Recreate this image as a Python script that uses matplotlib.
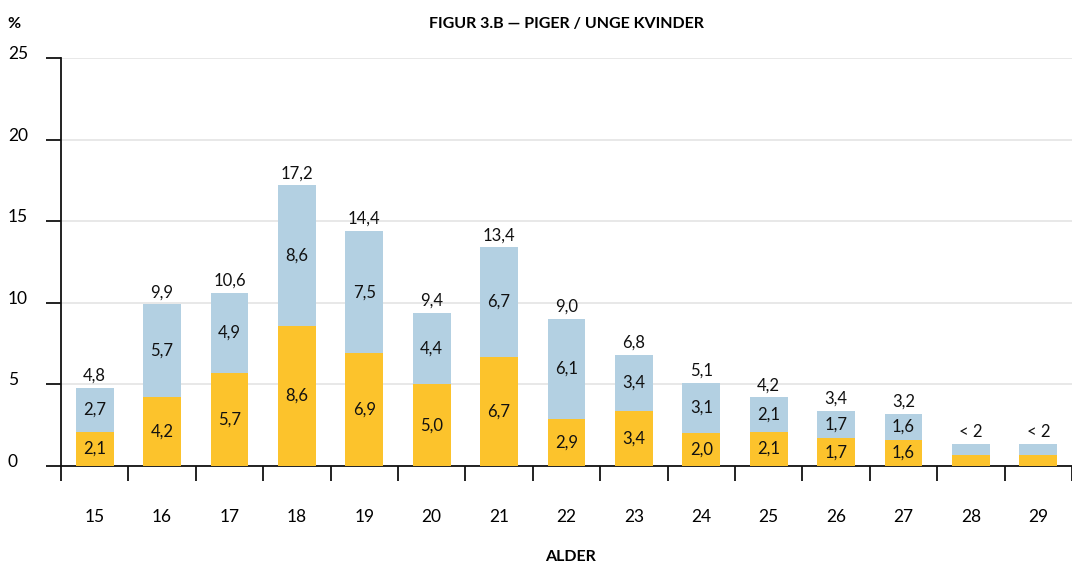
import matplotlib
matplotlib.use("Agg")
import matplotlib.pyplot as plt
import matplotlib.transforms as mtransforms
import numpy as np

ages = ["15", "16", "17", "18", "19", "20", "21", "22", "23", "24", "25", "26", "27", "28", "29"]
bottom_vals = [2.1, 4.2, 5.7, 8.6, 6.9, 5.0, 6.7, 2.9, 3.4, 2.0, 2.1, 1.7, 1.6, 0.7, 0.7]
top_vals = [2.7, 5.7, 4.9, 8.6, 7.5, 4.4, 6.7, 6.1, 3.4, 3.1, 2.1, 1.7, 1.6, 0.65, 0.65]
bottom_labels = ["2,1", "4,2", "5,7", "8,6", "6,9", "5,0", "6,7", "2,9", "3,4", "2,0", "2,1", "1,7", "1,6", "", ""]
top_labels = ["2,7", "5,7", "4,9", "8,6", "7,5", "4,4", "6,7", "6,1", "3,4", "3,1", "2,1", "1,7", "1,6", "", ""]
total_labels = ["4,8", "9,9", "10,6", "17,2", "14,4", "9,4", "13,4", "9,0", "6,8", "5,1", "4,2", "3,4", "3,2", "< 2", "< 2"]
yticks = [0, 5, 10, 15, 20, 25]

YELLOW = "#FCC32C"
BLUE = "#B3D0E2"
FONT = "Lato"
plt.rcParams["font.family"] = [FONT, "DejaVu Sans"]

fig = plt.figure(figsize=(10.72, 5.64), dpi=100)
ax = fig.add_axes([61/1072, 1-466/564, 1-61/1072, 408/564])

x = np.arange(len(ages))
w = 0.56
ax.bar(x, bottom_vals, width=w, color=YELLOW, zorder=3)
ax.bar(x, top_vals, width=w, bottom=bottom_vals, color=BLUE, zorder=3)

for i in range(len(ages)):
    b = bottom_vals[i]; t = top_vals[i]
    if bottom_labels[i]:
        ax.text(x[i], b/2, bottom_labels[i], ha="center", va="center", fontsize=12, color="#111111", zorder=4)
    if top_labels[i]:
        ax.text(x[i], b + t/2, top_labels[i], ha="center", va="center", fontsize=12, color="#111111", zorder=4)
    ax.text(x[i], b + t + 0.25, total_labels[i], ha="center", va="bottom", fontsize=12, color="#111111", zorder=4)

ax.set_xlim(-0.5, len(ages) - 0.5)
ax.set_ylim(0, 25)
ax.set_yticks(yticks)
ax.set_yticklabels([str(v) for v in yticks], fontsize=12.5, ha="left", va="center")
ax.tick_params(axis="y", length=10.8, width=1.3, pad=27.4, color="#111111")
offset = mtransforms.ScaledTranslation(0, 4/100, fig.dpi_scale_trans)
for lab in ax.get_yticklabels():
    lab.set_transform(lab.get_transform() + offset)
ax.yaxis.grid(True, color="#E6E6E6", linewidth=1.3, zorder=0)
ax.set_axisbelow(True)

ax.set_xticks(np.arange(len(ages) + 1) - 0.5, minor=False)
ax.set_xticklabels([])
ax.tick_params(axis="x", which="major", length=10.8, width=1.3, color="#111111")
ax.set_xticks(x, minor=True)
ax.set_xticklabels(ages, minor=True, fontsize=12.5)
ax.tick_params(axis="x", which="minor", length=0, pad=31)

for s in ["top", "right"]:
    ax.spines[s].set_visible(False)
ax.spines["left"].set_linewidth(1.3)
ax.spines["bottom"].set_linewidth(1.3)
ax.spines["left"].set_color("#111111")
ax.spines["bottom"].set_color("#111111")

fig.text(566/1072, 1-24/564, "FIGUR 3.B — PIGER / UNGE KVINDER", ha="center", va="center", fontsize=11.5, fontweight="bold")
fig.text(14/1072, 1-24/564, "%", ha="center", va="center", fontsize=11.5, fontweight="bold")
fig.text(570/1072, 1-557/564, "ALDER", ha="center", va="center", fontsize=11.5, fontweight="bold")

fig.savefig("out.png", dpi=100)
